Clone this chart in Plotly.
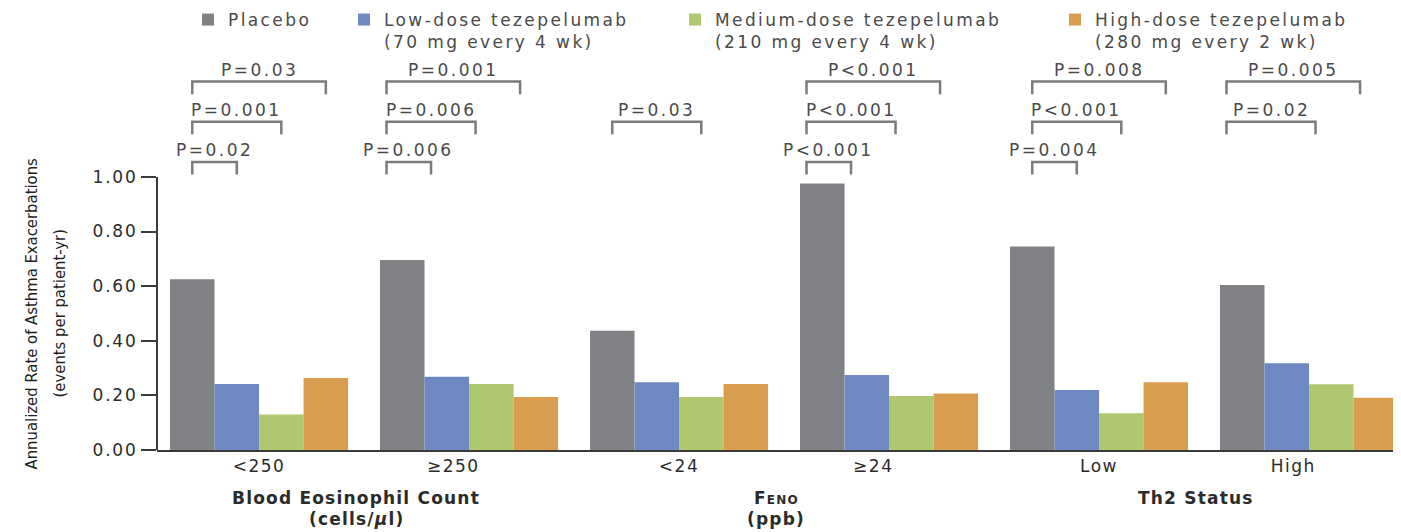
import plotly.graph_objects as go

# ---------------- data ----------------
CATEGORIES = ["<250", "≥250", "<24", "≥24", "Low", "High"]
GROUP_TITLES = ["Blood Eosinophil Count", "Feno", "Th2 Status"]
GROUP_UNITS = ["(cells/<i>μ</i>l)", "(ppb)", ""]
GROUP_VARIANTS = ["normal", "small-caps", "normal"]

SERIES_NAMES = [
    "Placebo",
    "Low-dose tezepelumab<br>(70 mg every 4 wk)",
    "Medium-dose tezepelumab<br>(210 mg every 4 wk)",
    "High-dose tezepelumab<br>(280 mg every 2 wk)",
]
PLACEBO = [0.625, 0.696, 0.437, 0.976, 0.745, 0.604]
LOW_DOSE = [0.242, 0.268, 0.248, 0.275, 0.220, 0.318]
MEDIUM_DOSE = [0.130, 0.242, 0.194, 0.198, 0.135, 0.241]
HIGH_DOSE = [0.264, 0.194, 0.242, 0.207, 0.248, 0.191]
SERIES_VALUES = [PLACEBO, LOW_DOSE, MEDIUM_DOSE, HIGH_DOSE]

Y_TICKS = [0.0, 0.2, 0.4, 0.6, 0.8, 1.0]

# (category index, dose index compared with placebo, label)
COMPARISONS = [
    (0, 1, "P=0.02"), (0, 2, "P=0.001"), (0, 3, "P=0.03"),
    (1, 1, "P=0.006"), (1, 2, "P=0.006"), (1, 3, "P=0.001"),
    (2, 2, "P=0.03"),
    (3, 1, "P<0.001"), (3, 2, "P<0.001"), (3, 3, "P<0.001"),
    (4, 1, "P=0.004"), (4, 2, "P<0.001"), (4, 3, "P=0.008"),
    (5, 2, "P=0.02"), (5, 3, "P=0.005"),
]

# ---------------- style ----------------
COLORS = ["#808184", "#6e89c2", "#afc76e", "#d99d50"]
TEXT = "#2b2b2b"
GREY_TEXT = "#4a4a4a"
BRACKET = "#7b7b7b"
FONT = "DejaVu Sans"
NARROW = "Liberation Sans Narrow, DejaVu Sans Condensed, sans-serif"

PAGE_W, PAGE_H = 1401, 532
BODY = 8                      # default page margin of the html body
W, H = PAGE_W - BODY, PAGE_H - BODY
# plot area in page pixels: x 157..1401, y 54..450
ML, MR, MT, MB = 157 - BODY, 0, 54 - BODY, PAGE_H - 450
PW, PH = W - ML - MR, H - MT - MB
Y_MAX = 1.45
X_RANGE = [-0.486, 5.438]
BARGAP = 0.152
PAIR_SHIFT = -0.075          # label / bracket shift for 2nd group of each pair
BRACKET_BASE = 1.055
BRACKET_STEP = 0.147
BRACKET_DROP = 0.046
LEGEND_TEXT_X = [228, 384, 715, 1095]


def ls(text, sp):
    return "<br>".join(
        f'<span style="letter-spacing:{sp}px">{t}</span>' for t in text.split("<br>")
    )


def px2paper(px):
    """page x pixel -> paper coordinate"""
    return (px - BODY - ML) / PW


def py2paper(py):
    """page y pixel -> paper coordinate"""
    return ((H - MB) - (py - BODY)) / PH


n = len(SERIES_VALUES)
bw = (1 - BARGAP) / n


def bar_center(cat, idx):
    return cat + (idx - (n - 1) / 2) * bw


def label_pos(cat):
    return cat + (PAIR_SHIFT if cat % 2 == 1 else 0)


x_idx = list(range(len(CATEGORIES)))

fig = go.Figure()
for i, (name, vals) in enumerate(zip(SERIES_NAMES, SERIES_VALUES)):
    fig.add_trace(go.Bar(
        x=x_idx, y=vals, name=ls(name, 2.4),
        marker=dict(color=COLORS[i], line=dict(width=0)),
        legend="legend" if i == 0 else f"legend{i + 1}",
        hovertemplate=name.replace("<br>", " ") + ": %{y:.2f}<extra></extra>",
    ))

shapes = []
annotations = []

# y-axis line only from 0 to 1.00
shapes.append(dict(type="line", xref="paper", yref="y", x0=0, x1=0, y0=0, y1=1.0,
                   line=dict(color="#3a3a3a", width=2)))

# significance brackets
for cat, dose, label in COMPARISONS:
    shift = label_pos(cat) - cat
    x0 = bar_center(cat, 0) + shift
    x1 = bar_center(cat, dose) + shift
    y = BRACKET_BASE + (dose - 1) * BRACKET_STEP
    shapes.append(dict(
        type="path", xref="x", yref="y",
        path=f"M{x0},{y - BRACKET_DROP} L{x0},{y} L{x1},{y} L{x1},{y - BRACKET_DROP}",
        line=dict(color=BRACKET, width=2.5),
    ))
    annotations.append(dict(
        x=(x0 + x1) / 2, y=y, xref="x", yref="y", text=ls(label, 2.5),
        showarrow=False, yanchor="bottom", xanchor="center", yshift=0,
        font=dict(family=FONT, size=17, color=GREY_TEXT),
    ))

# group titles
for g, (title, unit, var) in enumerate(zip(GROUP_TITLES, GROUP_UNITS, GROUP_VARIANTS)):
    xc = (label_pos(2 * g) + label_pos(2 * g + 1)) / 2
    annotations.append(dict(
        x=xc, y=py2paper(498), xref="x", yref="paper", text=ls(title, 1.2),
        showarrow=False, yanchor="middle", xanchor="center",
        font=dict(family=FONT, size=17, color=TEXT, weight="bold", variant=var),
    ))
    if unit:
        annotations.append(dict(
            x=xc, y=py2paper(519), xref="x", yref="paper", text=ls(unit, 1.2),
            showarrow=False, yanchor="middle", xanchor="center",
            font=dict(family=FONT, size=17, color=TEXT, weight="bold"),
        ))

# y-axis title (two lines)
for text, xpx in [("Annualized Rate of Asthma Exacerbations", 31),
                  ("(events per patient-yr)", 59)]:
    annotations.append(dict(
        x=px2paper(xpx), y=0.5, xref="paper", yref="y", text=text,
        textangle=-90, showarrow=False, xanchor="center", yanchor="middle",
        font=dict(family=NARROW, size=16.5, color="#1e1e1e"),
    ))

legend_common = dict(
    orientation="v", yanchor="top", xanchor="left", valign="top",
    bgcolor="rgba(0,0,0,0)", borderwidth=0,
    font=dict(family=FONT, size=17, color=GREY_TEXT),
    y=py2paper(2),
)
layout_legends = {}
for i, tx in enumerate(LEGEND_TEXT_X):
    key = "legend" if i == 0 else f"legend{i + 1}"
    layout_legends[key] = dict(legend_common, x=px2paper(tx - 40))

fig.update_layout(
    width=W, height=H,
    margin=dict(l=ML, r=MR, t=MT, b=MB, pad=0, autoexpand=False),
    paper_bgcolor="white", plot_bgcolor="white",
    barmode="group", bargap=BARGAP, bargroupgap=0,
    showlegend=True,
    xaxis=dict(
        range=X_RANGE, tickmode="array",
        tickvals=[label_pos(c) for c in x_idx],
        ticktext=[ls(c, 1.5) for c in CATEGORIES],
        showline=True, linecolor="#3a3a3a", linewidth=2,
        ticks="", showgrid=False, zeroline=False, automargin=False,
        tickfont=dict(family=FONT, size=17, color=TEXT),
    ),
    yaxis=dict(
        range=[0, Y_MAX], tickmode="array", tickvals=Y_TICKS,
        ticktext=[ls(f"{v:.2f}", 1.8) for v in Y_TICKS],
        ticks="outside", ticklen=15, tickwidth=2, tickcolor="#3a3a3a",
        showline=False, showgrid=False, zeroline=False, automargin=False,
        tickfont=dict(family=FONT, size=17, color=TEXT),
    ),
    shapes=shapes, annotations=annotations,
    **layout_legends,
)

fig.write_html("out.html")
